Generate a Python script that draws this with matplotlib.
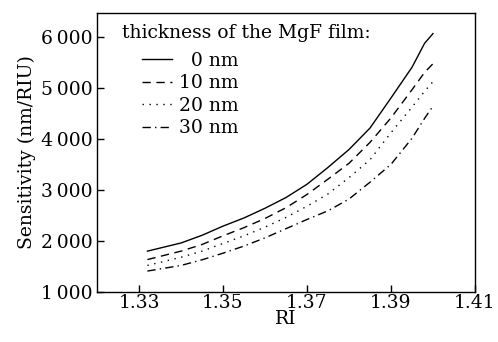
import matplotlib.pyplot as plt
from matplotlib.ticker import FuncFormatter

plt.rcParams['font.family'] = ['DejaVu Serif']
plt.rcParams['font.size'] = 13.5

ri = [1.332, 1.34, 1.345, 1.35, 1.355, 1.36, 1.365, 1.37, 1.375, 1.38, 1.385, 1.39, 1.395, 1.398, 1.40]
s0 = [1800, 1960, 2110, 2290, 2450, 2640, 2850, 3110, 3440, 3790, 4210, 4800, 5400, 5870, 6060]
s10 = [1635, 1800, 1930, 2100, 2260, 2440, 2650, 2910, 3210, 3520, 3930, 4410, 4960, 5300, 5470]
s20 = [1520, 1680, 1800, 1950, 2100, 2270, 2460, 2680, 2920, 3240, 3590, 4120, 4620, 4930, 5120]
s30 = [1410, 1520, 1630, 1760, 1900, 2060, 2240, 2420, 2590, 2820, 3150, 3500, 4010, 4400, 4640]
labels = ['\u20070 nm', '10 nm', '20 nm', '30 nm']

fig = plt.figure(figsize=(4.98, 3.42), dpi=100)
ax = fig.add_axes([0.1948, 0.1462, 0.759, 0.8168])

styles = ['-', (0, (6, 4)), (0, (1, 4)), (0, (6, 3, 1, 3))]
for y, lab, ls in zip([s0, s10, s20, s30], labels, styles):
    ax.plot(ri, y, color='black', lw=1.0, ls=ls, label=lab)

ax.set_xlim(1.32, 1.41)
ax.set_ylim(1000, 6470)
ax.set_xticks([1.33, 1.35, 1.37, 1.39, 1.41])
ax.set_yticks([1000, 2000, 3000, 4000, 5000, 6000])
ax.yaxis.set_major_formatter(FuncFormatter(lambda v, p: '{:,}'.format(int(v)).replace(',', '\u2009')))
ax.tick_params(direction='in', length=5, width=1, pad=3)
ax.tick_params(axis='x', pad=1.5)
for sp in ax.spines.values():
    sp.set_linewidth(1.0)

ax.set_xlabel('RI', labelpad=-1.5)
ax.set_ylabel('Sensitivity (nm/RIU)', labelpad=4)

ax.text(0.066, 0.927, 'thickness of the MgF film:', transform=ax.transAxes,
        ha='left', va='center')
ax.legend(frameon=False, loc='upper left', bbox_to_anchor=(0.119, 0.86),
          handlelength=1.6, handletextpad=0.4, labelspacing=0.24,
          borderaxespad=0.0, borderpad=0.0)

fig.savefig('out.png', dpi=100)
